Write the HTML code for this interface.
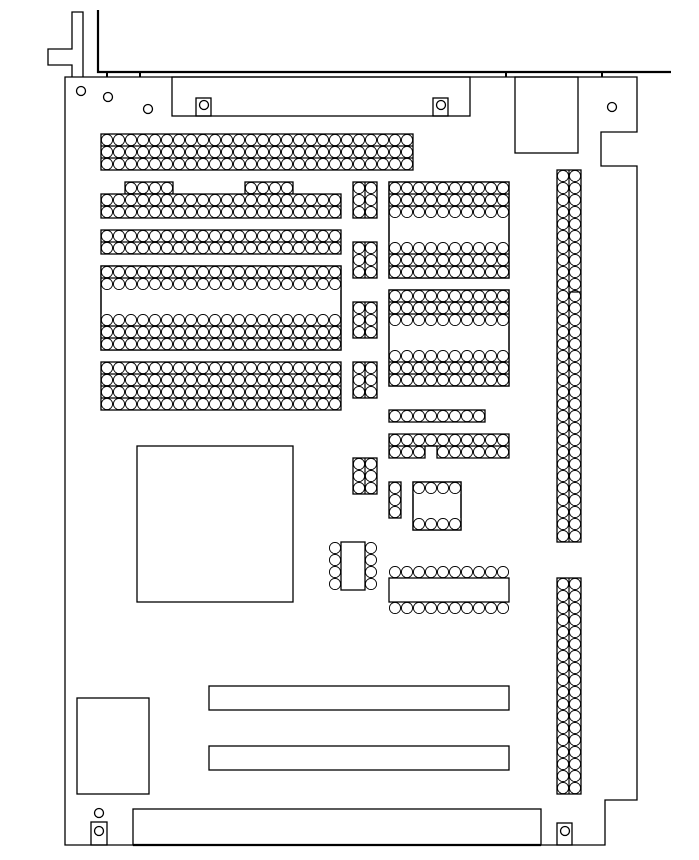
<!DOCTYPE html>
<html><head><meta charset="utf-8"><style>html,body{margin:0;padding:0;background:#fff}svg{display:block}</style></head>
<body>
<svg width="699" height="860" viewBox="0 0 699 860" xmlns="http://www.w3.org/2000/svg">
<defs>
<pattern id="p" x="5" y="2" width="12" height="12" patternUnits="userSpaceOnUse">
<rect width="12" height="12" fill="#fff"/>
<circle cx="6" cy="6" r="5.6" fill="none" stroke="#000" stroke-width="0.9"/>
</pattern>
</defs>
<g fill="none" stroke="#000" stroke-width="1.3">
<!-- bracket -->
<path d="M72,77 V65 H48 V49 H72 V12 H83 V77"/>
<path d="M98,10 V72 H671" stroke-width="2.2"/>
<path d="M107,72V77 M140,72V77 M506,72V77 M602,72V77" stroke-width="2"/>
<!-- board outline -->
<path d="M65,77 H637 V132 H601 V166 H637 V800 H605 V845 H65 Z"/>
<circle cx="81" cy="91" r="4.5"/><circle cx="108" cy="97" r="4.5"/><circle cx="148" cy="109" r="4.5"/><circle cx="612" cy="107" r="4.5"/>
<!-- top connector -->
<rect x="172" y="77" width="298" height="39"/>
<rect x="196" y="98" width="15" height="18"/><circle cx="204" cy="105" r="4.5"/>
<rect x="433" y="98" width="15" height="18"/><circle cx="441" cy="105" r="4.5"/>
<rect x="515" y="77" width="63" height="76"/>
</g>
<g stroke="#000" stroke-width="1.3">
<rect x="101" y="134" width="312" height="36" fill="url(#p)"/>
<rect x="125" y="182" width="48" height="12" fill="url(#p)"/>
<rect x="245" y="182" width="48" height="12" fill="url(#p)"/>
<rect x="101" y="194" width="240" height="24" fill="url(#p)"/>
<rect x="101" y="230" width="240" height="24" fill="url(#p)"/>
<rect x="101" y="266" width="240" height="84" fill="#fff"/>
<rect x="101" y="266" width="240" height="24" fill="url(#p)" stroke="none"/>
<rect x="101" y="314" width="240" height="36" fill="url(#p)" stroke="none"/>
<rect x="101" y="266" width="240" height="84" fill="none"/>
<rect x="101" y="362" width="240" height="48" fill="url(#p)"/>
<rect x="353" y="182" width="24" height="36" fill="url(#p)"/>
<rect x="353" y="242" width="24" height="36" fill="url(#p)"/>
<rect x="353" y="302" width="24" height="36" fill="url(#p)"/>
<rect x="353" y="362" width="24" height="36" fill="url(#p)"/>
<rect x="389" y="182" width="120" height="96" fill="#fff"/>
<rect x="389" y="182" width="120" height="36" fill="url(#p)" stroke="none"/>
<rect x="389" y="242" width="120" height="36" fill="url(#p)" stroke="none"/>
<rect x="389" y="182" width="120" height="96" fill="none"/>
<rect x="389" y="290" width="120" height="96" fill="#fff"/>
<rect x="389" y="290" width="120" height="36" fill="url(#p)" stroke="none"/>
<rect x="389" y="350" width="120" height="36" fill="url(#p)" stroke="none"/>
<rect x="389" y="290" width="120" height="96" fill="none"/>
<rect x="389" y="410" width="96" height="12" fill="url(#p)"/>
<rect x="389" y="434" width="120" height="12" fill="url(#p)" stroke="none"/>
<rect x="389" y="446" width="36" height="12" fill="url(#p)" stroke="none"/>
<rect x="437" y="446" width="72" height="12" fill="url(#p)" stroke="none"/>
<path d="M389,434 H509 V458 H437 V446 H425 V458 H389 Z" fill="none"/>
<rect x="353" y="458" width="24" height="36" fill="url(#p)"/>
<rect x="389" y="482" width="12" height="36" fill="url(#p)"/>
<rect x="413" y="482" width="48" height="48" fill="#fff"/>
<rect x="413" y="482" width="48" height="12" fill="url(#p)" stroke="none"/>
<rect x="413" y="518" width="48" height="12" fill="url(#p)" stroke="none"/>
<rect x="413" y="482" width="48" height="48" fill="none"/>
<rect x="329" y="542" width="12" height="48" fill="url(#p)" stroke="none"/>
<rect x="365" y="542" width="12" height="48" fill="url(#p)" stroke="none"/>
<rect x="341" y="542" width="24" height="48" fill="#fff"/>
<rect x="389" y="566" width="120" height="12" fill="url(#p)" stroke="none"/>
<rect x="389" y="602" width="120" height="12" fill="url(#p)" stroke="none"/>
<rect x="389" y="578" width="120" height="24" fill="#fff"/>
<rect x="557" y="170" width="24" height="372" fill="url(#p)"/>
<rect x="557" y="578" width="24" height="216" fill="url(#p)"/>
</g>
<g fill="none" stroke="#000" stroke-width="1.2">
<path d="M101,146H413 M101,158H413 M101,206H341 M101,242H341 M101,278H341 M101,326H341 M101,338H341 M101,374H341 M101,386H341 M101,398H341
M389,194H509 M389,206H509 M389,254H509 M389,266H509 M389,302H509 M389,314H509 M389,362H509 M389,374H509 M389,446H509
M365,182V218 M365,242V278 M365,302V338 M365,362V398 M365,458V494 M569,170V542 M569,578V794 M569,292H581"/>
</g>
<g fill="none" stroke="#000" stroke-width="1.3">
<rect x="137" y="446" width="156" height="156"/>
<rect x="209" y="686" width="300" height="24"/>
<rect x="209" y="746" width="300" height="24"/>
<rect x="77" y="698" width="72" height="96"/>
<rect x="133" y="809" width="408" height="36"/>
<path d="M133,845H541" stroke-width="2.2"/>
<circle cx="99" cy="813" r="4.5"/>
<rect x="91" y="822" width="16" height="23"/><circle cx="99" cy="831" r="4.5"/>
<rect x="557" y="823" width="15" height="22"/><circle cx="565" cy="831" r="4.5"/>
</g>
</svg>
</body></html>
